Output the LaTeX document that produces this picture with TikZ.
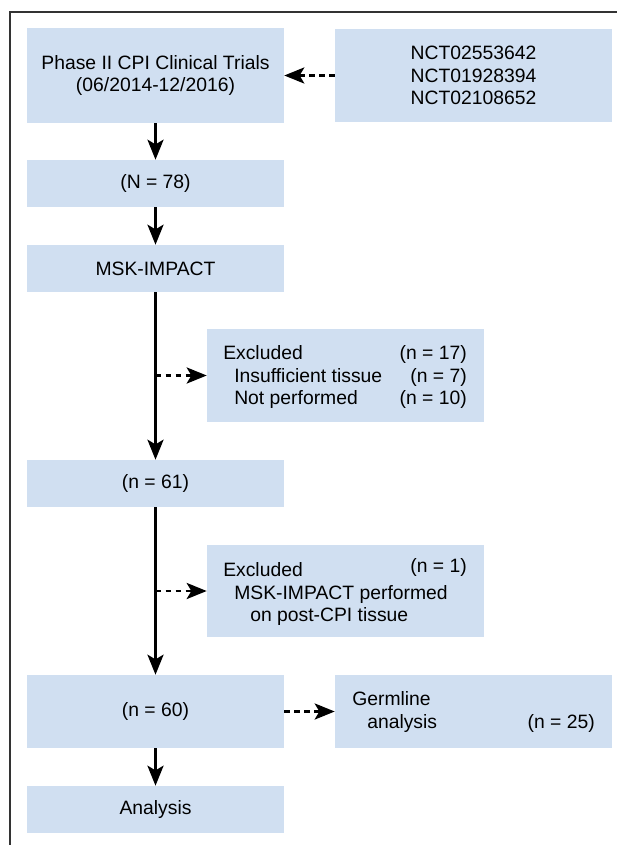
\documentclass[tikz,border=0pt]{standalone}
\usepackage{fontspec}
\setmainfont{Liberation Sans}
\usetikzlibrary{arrows.meta}

\definecolor{boxblue}{RGB}{208,223,241}
\newcommand{\boxfont}{\fontsize{14.5}{16.9}\selectfont}

\tikzset{
  box/.style={fill=boxblue, inner sep=0pt, align=center, font=\boxfont},
  leftbox/.style={box, minimum width=192.75pt},
  rightbox/.style={box, minimum width=207.75pt},
  txt/.style={inner sep=0pt, anchor=base west, font=\boxfont},
  num/.style={inner sep=0pt, anchor=base east, font=\boxfont},
  flow/.style={line width=2.2pt, -{Stealth[length=15pt, width=12pt, inset=3.5pt]}},
  side/.style={flow, dash pattern=on 4pt off 3.5pt},
  frame/.style={line width=0.8pt, black!80}
}

\begin{document}
\begin{tikzpicture}[x=0.75pt, y=-0.75pt]

  \useasboundingbox (0, 0) rectangle (617, 845);
  \draw[frame] (10, 845) -- (10, 12) -- (617, 12);

  % main column
  \node[leftbox, minimum height=71.25pt] (trials) at (155.5, 75.5) {Phase II CPI Clinical Trials\\(06/2014-12/2016)};
  \node[rightbox, minimum height=69.75pt] (nct) at (473.5, 75.5) {NCT02553642\\NCT01928394\\NCT02108652};
  \node[leftbox, minimum height=35.25pt] (n78) at (155.5, 183.5) {(N = 78)};
  \node[leftbox, minimum height=35.25pt] (msk) at (155.5, 268.5) {MSK-IMPACT};
  \node[leftbox, minimum height=35.25pt] (n61) at (155.5, 483.5) {(n = 61)};
  \node[leftbox, minimum height=54.75pt] (n60) at (155.5, 711.5) {(n = 60)};
  \node[leftbox, minimum height=35.25pt] (analysis) at (155.5, 809.5) {Analysis};

  % side boxes
  \node[rightbox, minimum height=69.75pt] (excl1) at (345.5, 375.5) {};
  \node[txt] (excl1a) at (223, 359) {Excluded};
  \node[txt] (excl1b) at (234, 382) {Insufficient tissue};
  \node[txt] (excl1c) at (234, 404) {Not performed};
  \node[num] (excl1an) at (467, 359) {(n = 17)};
  \node[num] (excl1bn) at (467, 382) {(n = 7)};
  \node[num] (excl1cn) at (467, 404) {(n = 10)};

  \node[rightbox, minimum height=69pt] (excl2) at (345.5, 591) {};
  \node[txt] (excl2a) at (223, 576) {Excluded};
  \node[num] (excl2an) at (467, 572) {(n = 1)};
  \node[txt] (excl2b) at (234, 599) {MSK-IMPACT performed};
  \node[txt] (excl2c) at (250, 621) {on post-CPI tissue};

  \node[rightbox, minimum height=54.75pt] (germ) at (473.5, 711.5) {};
  \node[txt] (germa) at (352, 705) {Germline};
  \node[txt] (germb) at (367, 728) {analysis};
  \node[num] (germn) at (595, 728) {(n = 25)};

  \coordinate (split1) at (155.5, 375.5);
  \coordinate (split2) at (155.5, 591);

  % connectors
  \draw[side] (nct) -- (trials);
  \draw[flow] (trials) -- (n78);
  \draw[flow] (n78) -- (msk);
  \draw[flow] (msk) -- (n61);
  \draw[side] (split1) -- (excl1);
  \draw[flow] (n61) -- (n60);
  \draw[side] (split2) -- (excl2);
  \draw[side] (n60) -- (germ);
  \draw[flow] (n60) -- (analysis);

\end{tikzpicture}
\end{document}
